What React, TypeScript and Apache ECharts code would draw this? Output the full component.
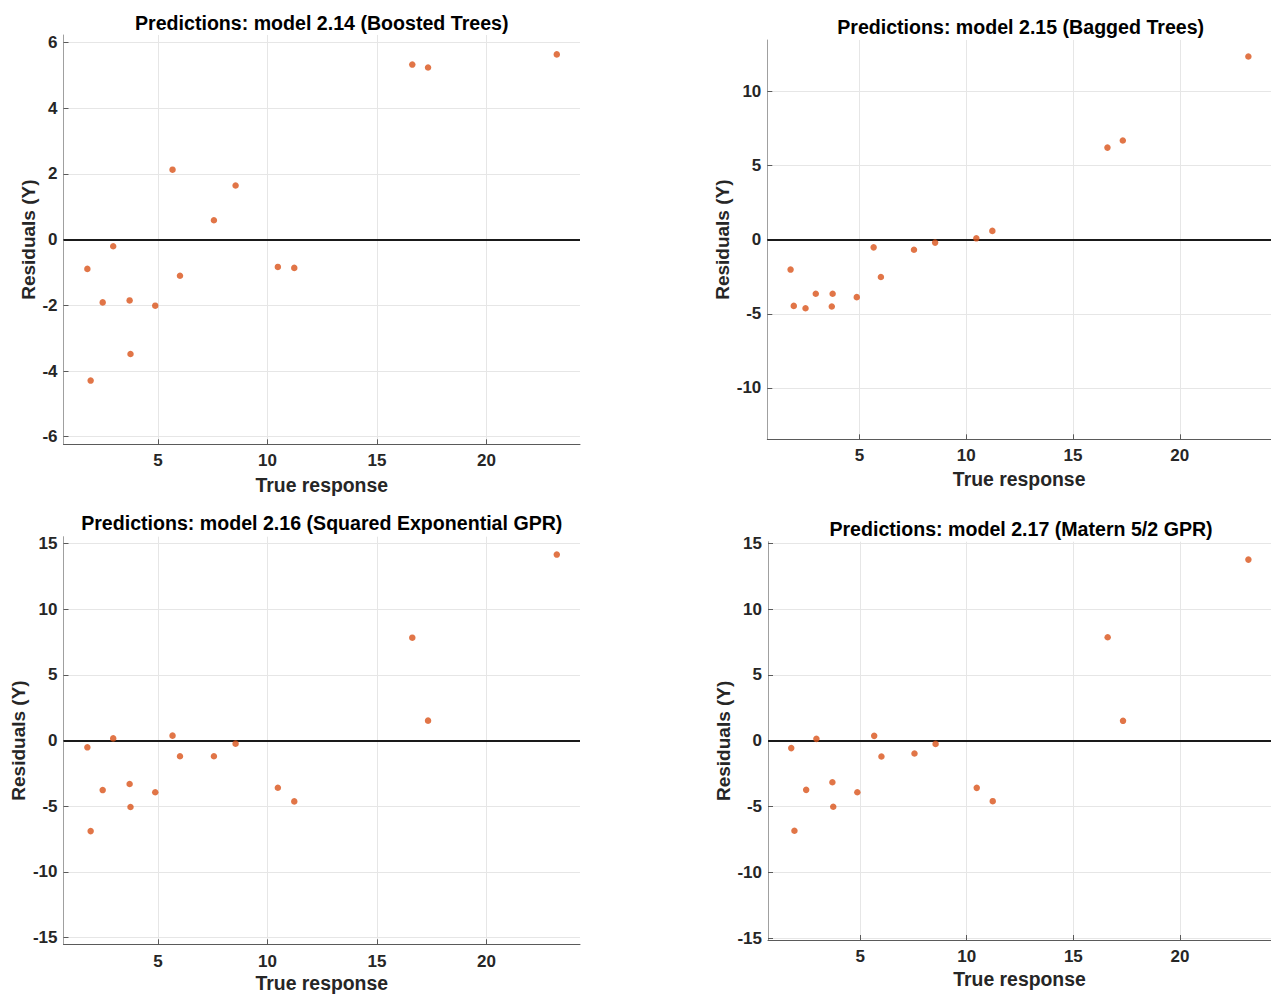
import React, { useEffect, useRef } from "react";
import * as echarts from "echarts";

// ---- Data ----
const trueResponse = [1.77, 1.92, 2.47, 2.95, 3.7, 3.74, 4.87, 5.66, 6.0, 7.55, 8.54, 10.47, 11.22, 16.61, 17.33, 23.21];
const residualsBoosted = [-0.89, -4.29, -1.91, -0.2, -1.85, -3.48, -2.01, 2.13, -1.1, 0.59, 1.65, -0.83, -0.86, 5.33, 5.24, 5.64];
const residualsBagged = [-2.02, -4.47, -4.63, -3.65, -4.51, -3.65, -3.88, -0.52, -2.52, -0.68, -0.2, 0.09, 0.59, 6.21, 6.69, 12.36];
const residualsSqExpGPR = [-0.52, -6.89, -3.77, 0.16, -3.31, -5.06, -3.94, 0.37, -1.2, -1.2, -0.24, -3.59, -4.63, 7.82, 1.51, 14.14];
const residualsMaternGPR = [-0.55, -6.83, -3.72, 0.15, -3.14, -5.0, -3.9, 0.38, -1.19, -0.96, -0.23, -3.57, -4.58, 7.87, 1.52, 13.76];

const titles = [
  "Predictions: model 2.14 (Boosted Trees)",
  "Predictions: model 2.15 (Bagged Trees)",
  "Predictions: model 2.16 (Squared Exponential GPR)",
  "Predictions: model 2.17 (Matern 5/2 GPR)",
];
const xTicks = [5, 10, 15, 20];
const yTicksBoosted = [-6, -4, -2, 0, 2, 4, 6];
const yTicksBagged = [-10, -5, 0, 5, 10];
const yTicksGPR = [-15, -10, -5, 0, 5, 10, 15];
const xRange = [0.68, 24.27];
const yRanges = [
  [-6.23, 6.23],
  [-13.47, 13.47],
  [-15.5, 15.5],
  [-15.12, 15.12],
];
const xName = "True response";
const yName = "Residuals (Y)";

const FONT = "'Liberation Sans', Arial, Helvetica, sans-serif";

// layout of the four panels (pixels)
const panels = [
  { left: 63.5, top: 35, width: 516.5, height: 409.3, titleTop: 13, xNameGap: 31, yNameGap: 25.5, xLabelMargin: 8 },
  { left: 767.3, top: 40, width: 506.7, height: 399.3, titleTop: 17, xNameGap: 30, yNameGap: 35.5, xLabelMargin: 8 },
  { left: 63.5, top: 536.7, width: 516.5, height: 407.6, titleTop: 513, xNameGap: 29, yNameGap: 36, xLabelMargin: 9 },
  { left: 768, top: 541.7, width: 506, height: 398.3, titleTop: 519, xNameGap: 29.5, yNameGap: 35.5, xLabelMargin: 8 },
];

export default function App() {
  const ref = useRef<HTMLDivElement>(null);

  useEffect(() => {
    if (!ref.current) return;
    const chart = echarts.init(ref.current, undefined, { renderer: "svg" });
    const residualSets = [residualsBoosted, residualsBagged, residualsSqExpGPR, residualsMaternGPR];
    const yTickSets = [yTicksBoosted, yTicksBagged, yTicksGPR, yTicksGPR];

    const option: any = {
      animation: false,
      backgroundColor: "#ffffff",
      title: panels.map((p, i) => ({
        text: titles[i],
        left: p.left + p.width / 2,
        top: p.titleTop,
        padding: 0,
        textAlign: "center",
        textStyle: { fontFamily: FONT, fontWeight: "bold", fontSize: 19.6, color: "#000000" },
      })),
      grid: panels.map((p) => ({
        left: p.left,
        top: p.top,
        width: p.width,
        height: p.height,
        containLabel: false,
      })),
      xAxis: panels.map((p, i) => ({
        type: "value",
        gridIndex: i,
        min: xRange[0],
        max: xRange[1],
        name: xName,
        nameLocation: "middle",
        nameGap: p.xNameGap,
        nameTextStyle: { fontFamily: FONT, fontWeight: "bold", fontSize: 19.4, color: "#262626" },
        axisLine: { show: true, onZero: false, lineStyle: { color: "#5a5a5a", width: 1 } },
        axisTick: { show: true, inside: true, length: 5, customValues: xTicks, lineStyle: { color: "#5a5a5a" } },
        axisLabel: {
          customValues: xTicks,
          margin: p.xLabelMargin,
          fontFamily: FONT,
          fontWeight: "bold",
          fontSize: 17,
          color: "#262626",
        },
        splitLine: { show: true, lineStyle: { color: "#e6e6e6", width: 1 } },
      })),
      yAxis: panels.map((p, i) => ({
        type: "value",
        gridIndex: i,
        min: yRanges[i][0],
        max: yRanges[i][1],
        name: yName,
        nameLocation: "middle",
        nameGap: p.yNameGap,
        nameTextStyle: { fontFamily: FONT, fontWeight: "bold", fontSize: 19, color: "#262626" },
        axisLine: { show: true, onZero: false, lineStyle: { color: "#a0a0a0", width: 1 } },
        axisTick: { show: true, inside: true, length: 5, customValues: yTickSets[i], lineStyle: { color: "#5a5a5a" } },
        axisLabel: {
          customValues: yTickSets[i],
          margin: 6,
          fontFamily: FONT,
          fontWeight: "bold",
          fontSize: 17,
          color: "#262626",
        },
        splitLine: { show: true, lineStyle: { color: "#e6e6e6", width: 1 } },
      })),
      series: residualSets.map((res, i) => ({
        type: "scatter",
        xAxisIndex: i,
        yAxisIndex: i,
        symbol: "circle",
        symbolSize: 6.5,
        z: 3,
        itemStyle: { color: "#D95319" },
        data: trueResponse.map((x, k) => [x, res[k]]),
        markLine: {
          silent: true,
          z: 1,
          symbol: ["none", "none"],
          label: { show: false },
          lineStyle: { color: "#1a1a1a", width: 2, type: "solid" },
          data: [{ yAxis: 0 }],
        },
      })),
    };

    chart.setOption(option);
    return () => chart.dispose();
  }, []);

  return (
    <div
      ref={ref}
      style={{ position: "fixed", left: 0, top: 0, width: 1271, height: 994, background: "#fff" }}
    />
  );
}
